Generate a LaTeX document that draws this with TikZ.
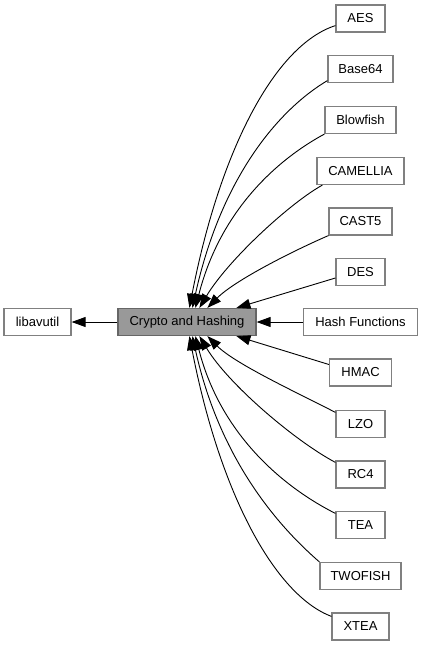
\documentclass[tikz,border=0pt]{standalone}
\usepackage{fontspec}
\setmainfont{Liberation Sans}
\usetikzlibrary{arrows.meta,calc}
\definecolor{boxline}{HTML}{808080}
\definecolor{curfill}{HTML}{999999}
\definecolor{curline}{HTML}{666666}
\tikzset{
  box/.style={draw=boxline, line width=1.2pt, fill=white, minimum height=27pt,
    inner sep=0pt, font=\fontsize{13pt}{15pt}\selectfont, text=black},
  cur/.style={box, fill=curfill, draw=curline},
  edge/.style={draw=black, line width=0.9pt, -{Triangle[length=14pt,width=10pt]}},
}
\begin{document}
\begin{tikzpicture}[x=1pt,y=-1pt]
\useasboundingbox (0,0) rectangle (423,645);
% nodes
\node[box, minimum width=67pt]  (avutil)   at (37.5,322)  {libavutil};
\node[cur, minimum width=138pt] (crypto)   at (187,322)   {Crypto and Hashing};
\node[box, minimum width=49pt]  (aes)      at (360.5,18.5) {AES};
\node[box, minimum width=65pt]  (base64)   at (360.5,69)  {Base64};
\node[box, minimum width=71pt]  (blowfish) at (360.5,120) {Blowfish};
\node[box, minimum width=87pt]  (camellia) at (360.5,171) {CAMELLIA};
\node[box, minimum width=63pt]  (cast5)    at (360.5,221.5) {CAST5};
\node[box, minimum width=49pt]  (des)      at (360.5,272) {DES};
\node[box, minimum width=114pt] (hash)     at (360.5,322) {Hash Functions};
\node[box, minimum width=62pt]  (hmac)     at (360.5,372.5) {HMAC};
\node[box, minimum width=49pt]  (lzo)      at (360.5,424) {LZO};
\node[box, minimum width=49pt]  (rc4)      at (360.5,474.5) {RC4};
\node[box, minimum width=49pt]  (tea)      at (360.5,525) {TEA};
\node[box, minimum width=81pt]  (twofish)  at (360.5,576) {TWOFISH};
\node[box, minimum width=57pt]  (xtea)     at (360.5,626.5) {XTEA};
% edges
\draw[edge] (crypto.west) -- (avutil.east);
\draw[edge] ([yshift=7pt]aes.south west) .. controls (275,45) and (220,150) .. ([xshift=72pt]crypto.north west);
\draw[edge] ([yshift=2.5pt]base64.south west) .. controls (278,110) and (221,178) .. ([xshift=75pt]crypto.north west);
\draw[edge] (blowfish.south west) .. controls (280,158) and (221,208) .. ([xshift=78pt]crypto.north west);
\draw[edge] ([xshift=6pt]camellia.south west) .. controls (290,203) and (228,260) .. ([xshift=82pt]crypto.north west);
\draw[edge] (cast5.south west) .. controls (295,250) and (235,280) .. ([xshift=90pt]crypto.north west);
\draw[edge] ([yshift=-6pt]des.west) -- ([xshift=119pt]crypto.north west);
\draw[edge] (hash.west) -- (crypto.east);
\draw[edge] ([yshift=8pt]hmac.west) -- ([xshift=119pt]crypto.south west);
\draw[edge] ([yshift=-2.5pt]lzo.north west) .. controls (300,394) and (235,364) .. ([xshift=90pt]crypto.south west);
\draw[edge] ([yshift=-2pt]rc4.north west) .. controls (295,441) and (228,384) .. ([xshift=82pt]crypto.south west);
\draw[edge] ([yshift=-2.5pt]tea.north west) .. controls (285,488) and (221,436) .. ([xshift=78pt]crypto.south west);
\draw[edge] (twofish.north west) .. controls (285,532) and (221,466) .. ([xshift=75pt]crypto.south west);
\draw[edge] ([yshift=-4pt]xtea.north west) .. controls (275,595) and (220,494) .. ([xshift=72pt]crypto.south west);
\end{tikzpicture}
\end{document}
